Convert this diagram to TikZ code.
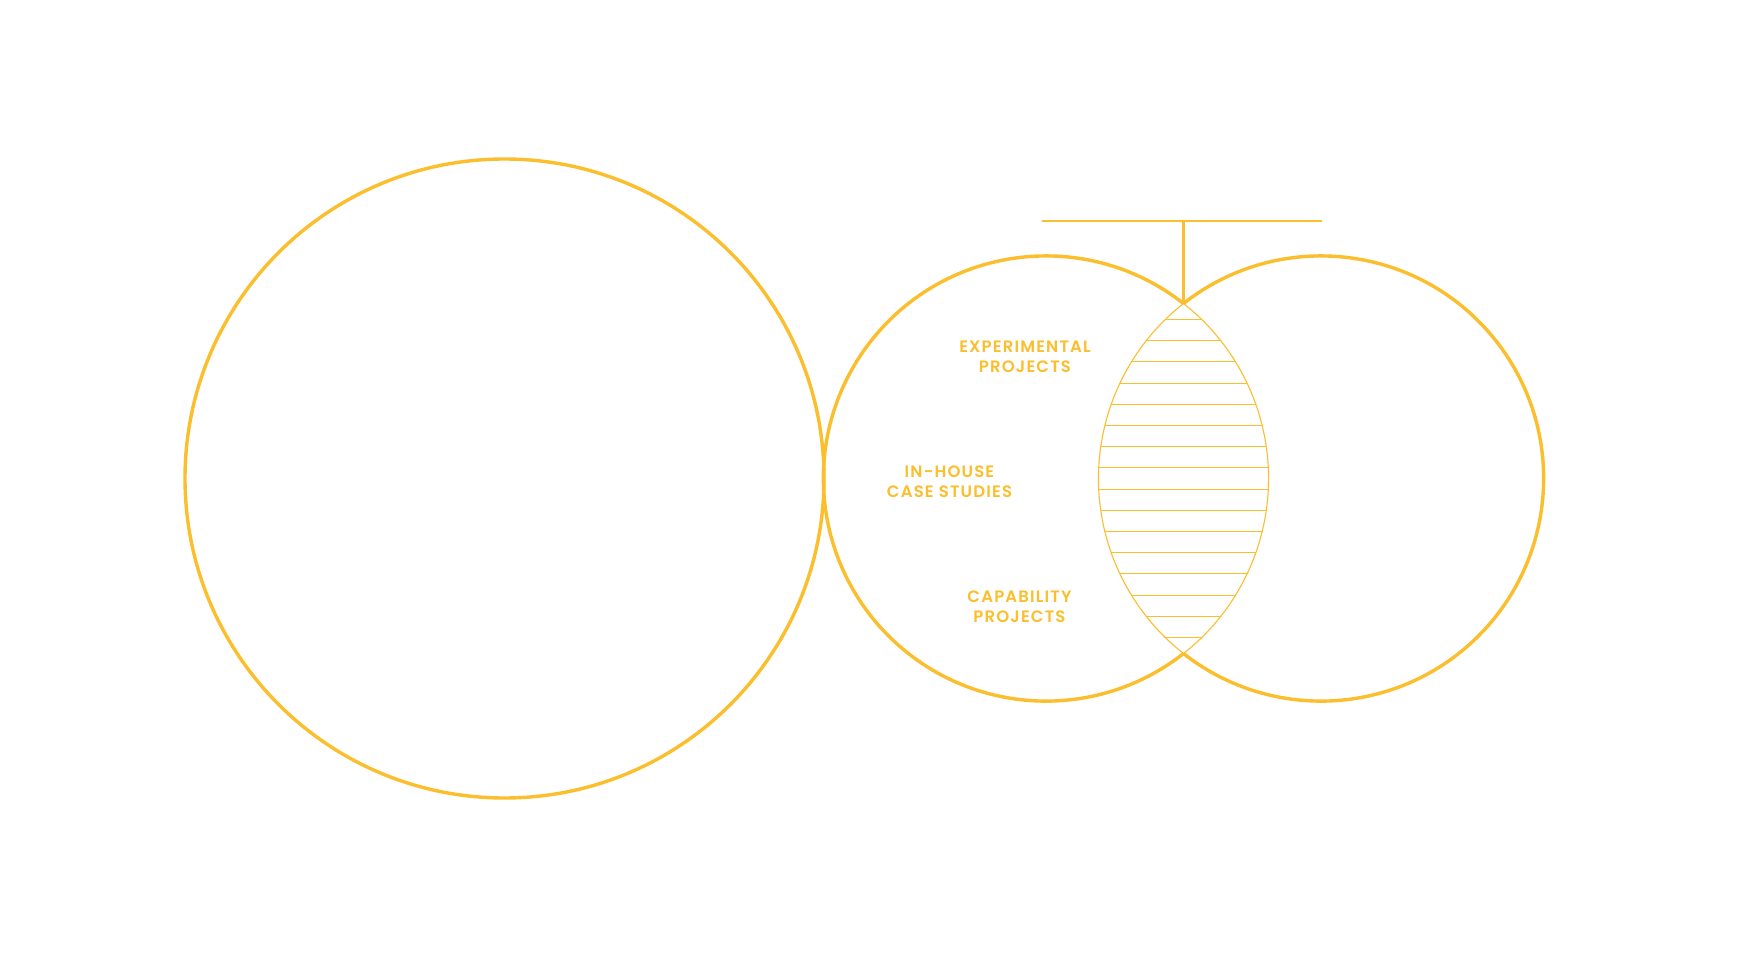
\documentclass[tikz,border=0pt]{standalone}
\usepackage{fontspec}
\usepackage{xcolor}
\usepackage{tikz}
\usetikzlibrary{positioning}
\newfontfamily\lblfont{Poppins SemiBold}[LetterSpace=7]
\definecolor{gold}{RGB}{251,190,44}

\begin{document}
\begin{tikzpicture}[
      x=1pt, y=-1pt,
      ring/.style={draw=gold, line width=3.4pt},
      thin/.style={draw=gold, line width=1.1pt},
      lbl/.style={text=gold, align=center, inner sep=0pt,
                  font=\lblfont\fontsize{16.5}{20}\selectfont}]
    \useasboundingbox[fill=white] (0,0) rectangle (1740,968);
    \coordinate (big)   at (504.5,478.5);
    \coordinate (mid)   at (1046,478.5);
    \coordinate (right) at (1321,478.5);
    \coordinate (top)   at (1183.5,303.5);
    \coordinate (bot)   at (1183.5,653.5);
    \coordinate (barl)  at (1042,221);
    \coordinate (barr)  at (1322,221);
    % circles
    \draw[ring] (big) circle[radius=319.5];
    \draw[ring] (top) arc[start angle=-51.84, end angle=-308.16, radius=222.6];
    \draw[ring] (top) arc[start angle=231.84, end angle=488.16, radius=222.6];
    % lens with hatching
    \begin{scope}
      \clip (top) arc[start angle=231.84, end angle=128.16, radius=222.6]
                  arc[start angle=51.84, end angle=-51.84, radius=222.6] -- cycle;
      \foreach \k in {-7.5,-6.5,...,7.5}
        \draw[thin] (1090,478.5+21.2*\k) -- (1280,478.5+21.2*\k);
    \end{scope}
    \draw[thin] (top) arc[start angle=231.84, end angle=128.16, radius=222.6]
                arc[start angle=51.84, end angle=-51.84, radius=222.6] -- cycle;
    % bracket
    \draw[ring, line width=2.8pt] (barl) -- (barr);
    \draw[ring, line width=2.8pt] (top) -- (top |- barl);
    % labels
    \node[lbl] (exp) at (1025,357) {EXPERIMENTAL\\PROJECTS};
    \node[lbl] (inh) at (949.5,482) {IN-HOUSE\\CASE STUDIES};
    \node[lbl] (cap) at (1019.5,607) {CAPABILITY\\PROJECTS};
  \end{tikzpicture}
\end{document}
